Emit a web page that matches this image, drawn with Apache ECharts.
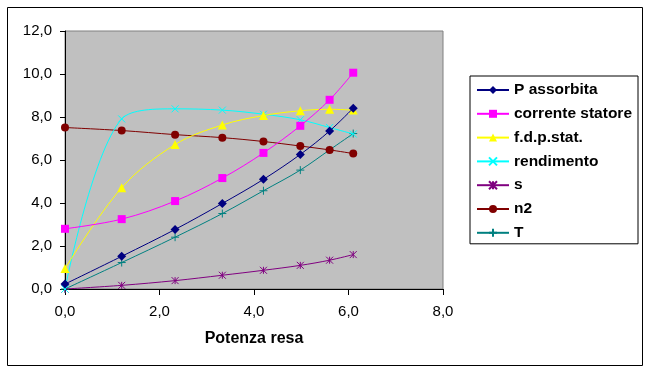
<!DOCTYPE html>
<html><head><meta charset="utf-8">
<script src="https://cdn.jsdelivr.net/npm/echarts@6/dist/echarts.min.js"></script>
<style>html,body{margin:0;padding:0;background:#fff}#c{width:652px;height:374px}</style>
</head><body><div id="c"></div>
<script>
const xValues = [0, 1.2, 2.33, 3.33, 4.2, 4.98, 5.6, 6.1];
const pAssorbita = [0.23, 1.52, 2.77, 3.98, 5.10, 6.26, 7.35, 8.41];
const correnteStatore = [2.80, 3.25, 4.09, 5.16, 6.33, 7.59, 8.80, 10.06];
const fdpStat = [0.95, 4.71, 6.72, 7.63, 8.07, 8.29, 8.36, 8.32];
const rendimento = [0, 7.91, 8.38, 8.32, 8.13, 7.87, 7.51, 7.21];
const sValues = [0, 0.17, 0.39, 0.64, 0.87, 1.10, 1.34, 1.60];
const n2 = [7.51, 7.37, 7.18, 7.04, 6.86, 6.65, 6.47, 6.30];
const tValues = [0, 1.23, 2.41, 3.51, 4.57, 5.53, 6.47, 7.23];
const seriesNames = ['P assorbita', 'corrente statore', 'f.d.p.stat.', 'rendimento', 's', 'n2', 'T'];
const xTitle = 'Potenza resa';

const FONT = '"Liberation Sans", Arial, sans-serif';
const fmt = v => v.toFixed(1).replace('.', ',');
const pair = arr => arr.map((v, i) => [xValues[i], v]);

const styles = [
  {data: pAssorbita, color: '#000080', symbol: 'diamond', size: 9},
  {data: correnteStatore, color: '#FF00FF', symbol: 'rect', size: 8},
  {data: fdpStat, color: '#FFFF00', symbol: 'triangle', size: 9},
  {data: rendimento, color: '#00FFFF', symbol: 'path://M0,0L10,10M10,0L0,10', size: 7, stroke: true},
  {data: sValues, color: '#800080', symbol: 'path://M0,0L10,10M10,0L0,10M5,0L5,10', size: 7, stroke: true},
  {data: n2, color: '#800000', symbol: 'circle', size: 8},
  {data: tValues, color: '#008080', symbol: 'path://M5,0L5,10M0,5L10,5', size: 8, stroke: true}
];

const series = styles.map((s, i) => ({
  name: seriesNames[i],
  type: 'line',
  smooth: 0.35,
  data: pair(s.data),
  symbol: s.symbol,
  symbolSize: s.size,
  showAllSymbol: true,
  lineStyle: {color: s.color, width: 1},
  itemStyle: s.stroke ? {color: 'rgba(0,0,0,0)', borderColor: s.color, borderWidth: 1} : {color: s.color, borderWidth: 0},
  emphasis: {disabled: true},
  animation: false,
  z: 10 - i
}));

const chart = echarts.init(document.getElementById('c'), null, {renderer: 'canvas'});
chart.setOption({
  animation: false,
  backgroundColor: '#fff',
  textStyle: {fontFamily: FONT},
  graphic: [{type: 'rect', shape: {x: 7.5, y: 7.5, width: 635, height: 358}, style: {fill: 'none', stroke: '#000', lineWidth: 1}, z: -1}],
  grid: {left: 65, top: 31, right: 209, bottom: 85, show: true, backgroundColor: '#C0C0C0', borderColor: '#808080', borderWidth: 1},
  legend: {
    orient: 'vertical', left: 470, top: 76,
    padding: [6, 6, 3, 6], itemGap: 7.8, itemWidth: 32, itemHeight: 10,
    borderColor: '#000', borderWidth: 1, backgroundColor: '#fff',
    textStyle: {fontFamily: FONT, fontSize: 15.5, lineHeight: 16, fontWeight: 'bold', color: '#000'},
    data: seriesNames
  },
  xAxis: {
    type: 'value', min: 0, max: 8, interval: 2,
    name: xTitle, nameLocation: 'middle', nameGap: 42,
    nameTextStyle: {fontFamily: FONT, fontSize: 16, fontWeight: 'bold', color: '#000'},
    axisLine: {show: true, onZero: false, lineStyle: {color: '#000', width: 1}},
    axisTick: {show: true, length: 6, lineStyle: {color: '#000'}},
    splitLine: {show: false},
    axisLabel: {formatter: fmt, fontFamily: FONT, fontSize: 15, color: '#000', margin: 15}
  },
  yAxis: {
    type: 'value', min: 0, max: 12, interval: 2,
    axisLine: {show: true, onZero: false, lineStyle: {color: '#000', width: 1}},
    axisTick: {show: true, length: 5, lineStyle: {color: '#000'}},
    splitLine: {show: false},
    axisLabel: {formatter: fmt, fontFamily: FONT, fontSize: 15, color: '#000', margin: 13}
  },
  series: series
});
</script></body></html>
